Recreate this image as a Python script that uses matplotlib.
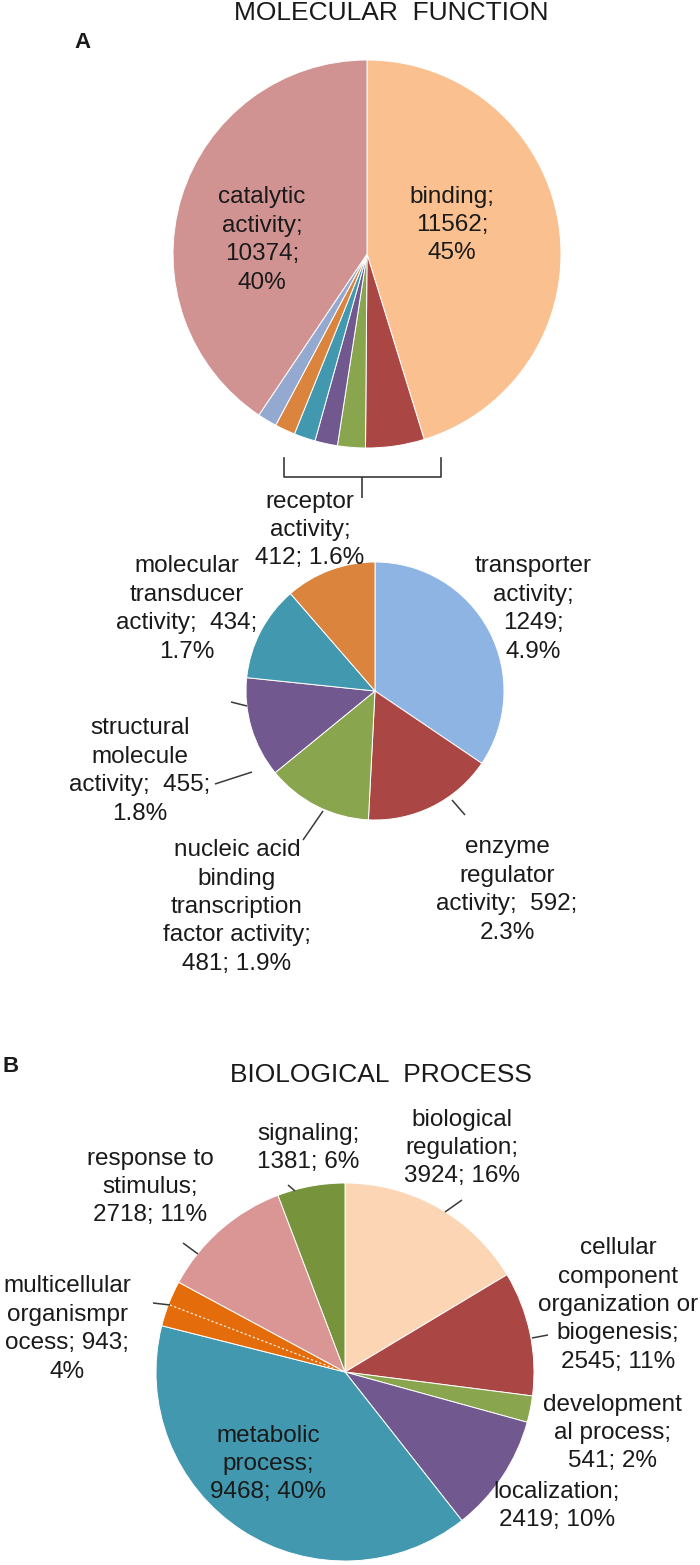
import matplotlib.pyplot as plt

H = 1565  # figure height in px, y below is measured from the top

# molecular function (top pie): the small slices are the ones broken out below
mf_big_names = ["binding", "catalytic activity"]
mf_big_counts = [11562, 10374]
mf_small_names = ["transporter activity", "enzyme regulator activity",
                  "nucleic acid binding transcription factor activity",
                  "structural molecule activity", "molecular transducer activity",
                  "receptor activity"]
mf_small_counts = [1249, 592, 481, 455, 434, 412]

mf_big_labels = ["binding;\n11562;\n45%", "catalytic\nactivity;\n10374;\n40%"]
mf_small_labels = ["transporter\nactivity;\n1249;\n4.9%",
                   "enzyme\nregulator\nactivity;  592;\n2.3%",
                   "nucleic acid\nbinding\ntranscription\nfactor activity;\n481; 1.9%",
                   "structural\nmolecule\nactivity;  455;\n1.8%",
                   "molecular\ntransducer\nactivity;  434;\n1.7%",
                   "receptor\nactivity;\n412; 1.6%"]

# biological process
bp_names = ["biological regulation", "cellular component organization or biogenesis",
            "developmental process", "localization", "metabolic process",
            "multicellular organismal process", "response to stimulus", "signaling"]
bp_counts = [3924, 2545, 541, 2419, 9468, 943, 2718, 1381]
bp_labels = ["biological\nregulation;\n3924; 16%",
             "cellular\ncomponent\norganization or\nbiogenesis;\n2545; 11%",
             "development\nal process;\n541; 2%",
             "localization;\n2419; 10%",
             "metabolic\nprocess;\n9468; 40%",
             "multicellular\norganismpr\nocess; 943;\n4%",
             "response to\nstimulus;\n2718; 11%",
             "signaling;\n1381; 6%"]

# colours
top_colors = ["#FAC090", "#AA4643", "#89A54E", "#71588F", "#4198AF", "#DB843D", "#93A9CF", "#D19392"]
sub_colors = ["#8EB4E3", "#AA4643", "#89A54E", "#71588F", "#4198AF", "#DB843D"]
bp_colors = ["#FCD5B5", "#AA4643", "#89A54E", "#71588F", "#4198AF", "#E46C0A", "#D99694", "#77933C"]

FONT = "Liberation Sans"
TXT = "#1a1a1a"
FS = 17.5
LS = 1.38

fig = plt.figure(figsize=(7, 15.65), dpi=100)
ax = fig.add_axes([0, 0, 1, 1])

wp = dict(edgecolor="white", linewidth=0.7)

# top pie: binding, the six small ones, catalytic
top_vals = [mf_big_counts[0]] + mf_small_counts + [mf_big_counts[1]]
ax.pie(top_vals, colors=top_colors, startangle=90, counterclock=False,
       center=(367, H - 254), radius=194, wedgeprops=wp)

# broken-out pie
ax.pie(mf_small_counts, colors=sub_colors, startangle=90, counterclock=False,
       center=(375, H - 691), radius=129, wedgeprops=wp)

# biological process pie
ax.pie(bp_counts, colors=bp_colors, startangle=90, counterclock=False,
       center=(345, H - 1372), radius=189, wedgeprops=wp)


def label(x, y, s, **kw):
    ax.text(x, H - y, s, ha="center", va="center", fontsize=kw.pop("fs", FS),
            family=FONT, color=TXT, linespacing=LS, **kw)


def leader(x1, y1, x2, y2, **kw):
    ax.plot([x1, x2], [H - y1, H - y2], color=kw.pop("color", "#3a3a3a"),
            lw=kw.pop("lw", 1.1), solid_capstyle="butt", **kw)


# titles
label(391, 13, "MOLECULAR  FUNCTION", fs=19)
label(381, 1075, "BIOLOGICAL  PROCESS", fs=19)
ax.text(74, H - 42, "A", ha="left", va="center", fontsize=16, fontweight="bold",
        family=FONT, color=TXT)
ax.text(3, H - 1067, "B", ha="left", va="center", fontsize=16, fontweight="bold",
        family=FONT, color=TXT)

# top pie labels
big_pos = [(452, 225), (262, 240)]
for (x, y), s in zip(big_pos, mf_big_labels):
    label(x, y, s)

# bracket joining the small slices to the lower pie
bx = [284, 284, 441, 441]
by = [458, 477, 477, 458]
ax.plot(bx, [H - v for v in by], color="#3a3a3a", lw=1.2)
leader(362, 477, 362, 498, lw=1.2)

# lower pie labels
small_pos = [(533, 609), (507, 890), (237, 907), (140, 771), (187, 609), (310, 530)]
for (x, y), s in zip(small_pos, mf_small_labels):
    label(x, y, s)
leader(231, 702, 247, 706)
leader(215, 784, 252, 772)
leader(303, 840, 323, 811)
leader(452, 800, 465, 815)

# biological process labels
bp_pos = [(462, 1148), (618, 1305), (612, 1433), (557, 1506), (268, 1464),
          (67, 1329), (150, 1187), (308, 1148)]
for (x, y), s in zip(bp_pos, bp_labels):
    label(x, y, s)
leader(288, 1185, 295, 1191)
leader(462, 1200, 445, 1212)
leader(183, 1243, 198, 1254)
leader(153, 1303, 170, 1305)
leader(170, 1305, 333, 1368, color="white", lw=0.8, linestyle=(0, (2, 2)))
leader(532, 1338, 548, 1335)

ax.set_xlim(0, 700)
ax.set_ylim(0, H)
ax.set_aspect("equal")
ax.axis("off")

fig.savefig("out.png", dpi=100, facecolor="white")
